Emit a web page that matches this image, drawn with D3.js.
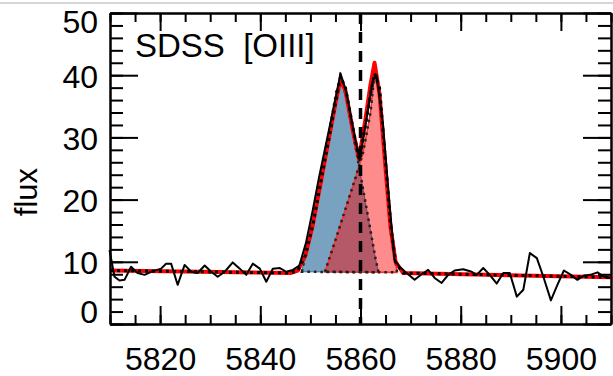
<!DOCTYPE html>
<meta charset="utf-8">

<head>
    <style>
        body {
            margin: 0;
            background: #fff;
        }

        text {
            font-family: "Liberation Sans", Arial, sans-serif;
            fill: #000;
        }

        .axis path,
        .axis line {
            stroke: #000;
            stroke-width: 2;
        }
    </style>
    <script src="https://d3js.org/d3.v7.min.js"></script>
</head>

<body>
    <script>
        const width = 613
        const height = 376
        const margin = { top: 13, right: 2, bottom: 52, left: 110 }

        // observed spectrum (wavelength, flux)
        const obsWave = [5809.9, 5810.9, 5811.9, 5812.9, 5814.2, 5815.5, 5816.9, 5818.2, 5820.2, 5821.2,
            5822.2, 5823.5, 5824.9, 5826.2, 5827.5, 5828.9, 5830.2, 5831.5, 5832.9, 5834.5,
            5835.9, 5837.2, 5838.5, 5839.9, 5841.2, 5842.5, 5843.9, 5845.2, 5846.5, 5847.8,
            5849.1, 5850.4, 5851.7, 5853.0, 5854.3, 5855.6, 5856.0, 5857.2, 5858.5, 5859.8,
            5861.1, 5862.4, 5863.2, 5864.5, 5865.7, 5866.8, 5867.8, 5869.2, 5870.8, 5872.2,
            5873.5, 5874.8, 5876.2, 5877.5, 5878.8, 5880.5, 5882.2, 5883.2, 5884.5, 5885.8,
            5887.2, 5888.5, 5889.8, 5891.2, 5892.5, 5893.8, 5895.2, 5896.5, 5898.0, 5899.3,
            5900.6, 5902.0, 5903.3, 5904.6, 5905.9, 5907.3, 5908.6, 5909.8]
        const obsFlux = [11.9, 7.6, 7.0, 7.1, 9.2, 8.2, 7.9, 8.4, 8.9, 9.7,
            9.7, 6.3, 9.5, 8.4, 8.2, 9.4, 8.4, 7.6, 8.4, 9.9,
            8.9, 7.9, 9.7, 8.9, 6.8, 8.9, 9.0, 8.4, 8.7, 9.4,
            13.0, 18.0, 23.5, 28.5, 33.5, 38.5, 40.3, 37.2, 31.5, 26.3,
            32.5, 39.0, 40.0, 32.0, 20.0, 10.3, 9.2, 8.2, 7.1, 8.0,
            8.7, 7.4, 6.6, 7.9, 8.6, 8.8, 8.4, 7.9, 9.0, 7.9,
            6.5, 8.2, 8.2, 4.4, 5.5, 11.4, 10.6, 7.6, 3.8, 6.3,
            8.6, 7.9, 7.1, 7.8, 7.9, 8.3, 7.6, 7.4]

        // total fit (red solid) and second fit (black dotted)
        const fitWave = [5810, 5846, 5847.5, 5849, 5850.5, 5852, 5853.5, 5855, 5856, 5857, 5858.5, 5859.7,
            5861, 5862, 5862.8, 5863.8, 5865, 5866, 5867, 5868.5, 5910]
        const fitFlux = [8.6, 8.2, 8.6, 11, 16, 22.5, 29, 35.5, 39.3, 37.5, 31, 26.5,
            33, 38.5, 42, 37, 25, 15.5, 10, 8.2, 7.5]
        const dotFlux = [8.6, 8.2, 8.6, 11, 16, 22.5, 29, 35.5, 39.8, 38, 31.5, 26.5,
            32, 37, 40.3, 38, 26, 16, 10, 8.2, 7.5]

        // gaussian components
        const blueWave = [5848.3, 5850, 5852, 5854, 5855.2, 5856, 5857, 5859, 5861, 5863, 5863.6]
        const blueFlux = [8.4, 15, 23.5, 32, 37.5, 39.3, 37, 28.5, 19.5, 10.5, 8.3]
        const redWave = [5852.9, 5855, 5857, 5859, 5860.5, 5862, 5862.8, 5863.6, 5865, 5866.3, 5867.3]
        const redFlux = [8.4, 13.5, 18.5, 23.5, 27.5, 34, 40.3, 38, 26, 14, 8.3]

        const xTicks = [5820, 5840, 5860, 5880, 5900]
        const yTicks = [0, 10, 20, 30, 40, 50]
        const lineCenter = 5860
        const title = "SDSS  [OIII]"

        const x = d3.scaleLinear().domain([5810, 5910]).range([margin.left, width - margin.right])
        const y = d3.scaleLinear().domain([0, 50]).range([height - margin.bottom, margin.top])

        const svg = d3.select("body").append("svg")
            .attr("width", width)
            .attr("height", height)

        // thin gray border at the top of the image
        svg.append("line")
            .attr("x1", 0).attr("x2", width)
            .attr("y1", 3).attr("y2", 3)
            .attr("stroke", "#c8c8c8")
            .attr("stroke-width", 1.5)

        const pts = (w, f) => w.map((d, i) => [d, f[i]])
        const line = d3.line().x(d => x(d[0])).y(d => y(d[1]))

        // components
        svg.append("path")
            .attr("d", line(pts(blueWave, blueFlux)) + "Z")
            .attr("fill", "rgba(31,100,150,0.6)")
            .attr("stroke", "#3b73a0")
            .attr("stroke-width", 1)

        svg.append("path")
            .attr("d", line(pts(redWave, redFlux)) + "Z")
            .attr("fill", "rgba(255,0,0,0.45)")
            .attr("stroke", "#ff3030")
            .attr("stroke-width", 1.5)

        // dotted outlines of components
        svg.selectAll(".comp-dot")
            .data([pts(blueWave, blueFlux), pts(redWave, redFlux)])
            .enter().append("path")
            .attr("class", "comp-dot")
            .attr("d", d => line(d) + "Z")
            .attr("fill", "none")
            .attr("stroke", "#222")
            .attr("stroke-width", 2.5)
            .attr("stroke-dasharray", "2.5,4")

        // red total fit
        svg.append("path")
            .attr("d", line(pts(fitWave, fitFlux)))
            .attr("fill", "none")
            .attr("stroke", "#ff0000")
            .attr("stroke-width", 4)
            .attr("stroke-linejoin", "round")

        // observed spectrum
        svg.append("path")
            .attr("d", line(pts(obsWave, obsFlux)))
            .attr("fill", "none")
            .attr("stroke", "#000")
            .attr("stroke-width", 2)
            .attr("stroke-linejoin", "round")

        // dotted fit
        svg.append("path")
            .attr("d", line(pts(fitWave, dotFlux)))
            .attr("fill", "none")
            .attr("stroke", "#000")
            .attr("stroke-width", 3)
            .attr("stroke-dasharray", "3,4")

        // dashed line at line centre
        svg.append("line")
            .attr("x1", x(lineCenter)).attr("x2", x(lineCenter))
            .attr("y1", y(50)).attr("y2", y(0))
            .attr("stroke", "#000")
            .attr("stroke-width", 3.5)
            .attr("stroke-dasharray", "11,8")

        // axes (ticks pointing inward on all four sides)
        const yMinor = d3.range(0, 51, 2)
        const xMinor = d3.range(5810, 5911, 5)

        svg.append("g").attr("class", "axis")
            .attr("transform", `translate(${margin.left},0)`)
            .call(d3.axisLeft(y).tickValues(yMinor).tickSize(-13).tickSizeOuter(0).tickFormat(""))
        svg.append("g").attr("class", "axis")
            .attr("transform", `translate(${width - margin.right},0)`)
            .call(d3.axisRight(y).tickValues(yMinor).tickSize(-13).tickSizeOuter(0).tickFormat(""))
        svg.append("g").attr("class", "axis")
            .attr("transform", `translate(${width - margin.right},0)`)
            .call(d3.axisRight(y).tickValues(yTicks).tickSize(-28).tickSizeOuter(0).tickFormat(""))

        const yAxis = svg.append("g").attr("class", "axis")
            .attr("transform", `translate(${margin.left},0)`)
            .call(d3.axisLeft(y).tickValues(yTicks).tickSize(-28).tickSizeOuter(0).tickPadding(12))
        yAxis.selectAll("text")
            .attr("font-size", 32)
            .attr("dy", d => d == 0 ? "-0.05em" : d == 50 ? "0.62em" : "0.38em")

        svg.append("g").attr("class", "axis")
            .attr("transform", `translate(0,${height - margin.bottom})`)
            .call(d3.axisBottom(x).tickValues(xMinor).tickSize(-9).tickSizeOuter(0).tickFormat(""))
        svg.append("g").attr("class", "axis")
            .attr("transform", `translate(0,${margin.top})`)
            .call(d3.axisTop(x).tickValues(xMinor).tickSize(-9).tickSizeOuter(0).tickFormat(""))
        svg.append("g").attr("class", "axis")
            .attr("transform", `translate(0,${margin.top})`)
            .call(d3.axisTop(x).tickValues(xTicks).tickSize(-18).tickSizeOuter(0).tickFormat(""))

        const xAxis = svg.append("g").attr("class", "axis")
            .attr("transform", `translate(0,${height - margin.bottom})`)
            .call(d3.axisBottom(x).tickValues(xTicks).tickSize(-18).tickSizeOuter(0).tickPadding(23).tickFormat(d3.format("d")))
        xAxis.selectAll("text").attr("font-size", 32)

        // titles
        svg.append("text")
            .attr("x", 135)
            .attr("y", 57)
            .attr("font-size", 33)
            .style("white-space", "pre")
            .text(title)

        svg.append("text")
            .attr("transform", `translate(37,${192}) rotate(-90)`)
            .attr("text-anchor", "middle")
            .attr("font-size", 31)
            .text("flux")
    </script>
</body>
